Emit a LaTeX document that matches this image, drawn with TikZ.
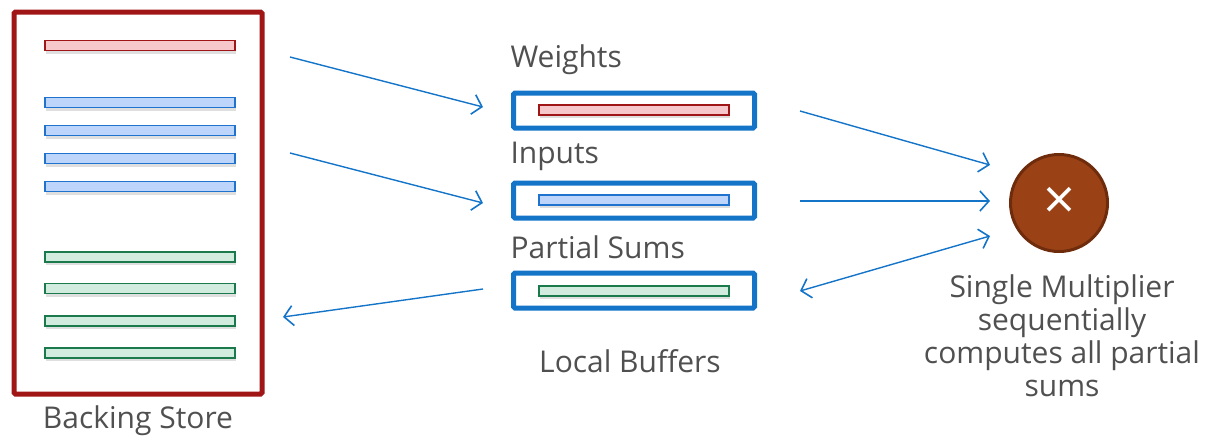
\documentclass[tikz,border=0pt]{standalone}
\usepackage{fontspec}
\setmainfont{Open Sans}
\usetikzlibrary{arrows.meta,positioning,shadows}
\definecolor{storered}{HTML}{A01515}
\definecolor{bufblue}{HTML}{1474C8}
\definecolor{txtgray}{HTML}{505050}
\definecolor{multfill}{HTML}{9A4216}
\definecolor{multdraw}{HTML}{6E2C0C}
\definecolor{wfill}{HTML}{F6C8CB}
\definecolor{idraw}{HTML}{1F73CE}
\definecolor{ifill}{HTML}{BDD5FA}
\definecolor{pdraw}{HTML}{1B7A4C}
\definecolor{pfill}{HTML}{D2EBDF}

\begin{document}
\begin{tikzpicture}[x=1pt, y=-1pt,
    bar/.style={draw, rectangle, line width=1.6pt, minimum width=190pt, minimum height=10pt, inner sep=0pt,
      drop shadow={shadow xshift=1pt, shadow yshift=-3pt, opacity=0.25}},
    wbar/.style={bar, draw=storered, fill=wfill},
    ibar/.style={bar, draw=idraw, fill=ifill},
    pbar/.style={bar, draw=pdraw, fill=pfill},
    buf/.style={draw=bufblue, line width=5pt, rectangle, rounded corners=1.5pt, minimum width=241pt, minimum height=35pt, inner sep=0pt},
    lbl/.style={text=txtgray, font=\fontsize{30}{33}\selectfont},
    arr/.style={-{Straight Barb[length=9pt, width=20pt, line width=1.6pt]}, line width=1.4pt, draw=bufblue}
]
\useasboundingbox (0,0) rectangle (1210,437);

% backing store
\node[draw=storered, line width=5pt, rectangle, rounded corners=1.5pt, minimum width=248pt, minimum height=382pt] (store) at (138,203) {};
\node[wbar] (sw) at (140,45.5) {};
\node[ibar] (si1) at (140,102.5) {};
\node[ibar] (si2) at (140,130.5) {};
\node[ibar] (si3) at (140,158.5) {};
\node[ibar] (si4) at (140,186.5) {};
\node[pbar] (sp1) at (140,257) {};
\node[pbar] (sp2) at (140,288.5) {};
\node[pbar] (sp3) at (140,321) {};
\node[pbar] (sp4) at (140,353) {};
\node[lbl] (storelbl) at (138,421) {Backing Store};

% local buffers
\node[buf] (wbuf) at (634,110.5) {};
\node[buf] (ibuf) at (634,200.5) {};
\node[buf] (pbuf) at (634,290.5) {};
\node[wbar] (bw) at (634,110) {};
\node[ibar] (bi) at (634,200) {};
\node[pbar] (bp) at (634,291) {};
\node[lbl, anchor=west] (wlbl) at (507,60) {Weights};
\node[lbl, anchor=west] (ilbl) at (507,156) {Inputs};
\node[lbl, anchor=west] (plbl) at (507,247) {Partial Sums};
\node[lbl] (buflbl) at (630,361) {Local Buffers};

% multiplier
\node[circle, draw=multdraw, fill=multfill, line width=3pt, minimum size=97pt, inner sep=0pt, text=white, font=\fontsize{56}{56}\selectfont] (mult) at (1059,203) {\symbol{"D7}};
\node[lbl, align=center] (multlbl) at (1062,336) {Single Multiplier\\sequentially\\computes all partial\\sums};

% arrow ends
\coordinate (w0) at (290,57);   \coordinate (w1) at (483,107);
\coordinate (i0) at (290,153);  \coordinate (i1) at (483,203);
\coordinate (p0) at (483,289);  \coordinate (p1) at (283,317);
\coordinate (mw0) at (800,111); \coordinate (mw1) at (990,165);
\coordinate (mi0) at (800,201); \coordinate (mi1) at (990,201);
\coordinate (mp0) at (800,291); \coordinate (mp1) at (990,236);

\draw[arr] (w0) -- (w1);
\draw[arr] (i0) -- (i1);
\draw[arr] (p0) -- (p1);
\draw[arr] (mw0) -- (mw1);
\draw[arr] (mi0) -- (mi1);
\draw[arr, {Straight Barb[length=9pt, width=20pt, line width=1.6pt]}-{Straight Barb[length=9pt, width=20pt, line width=1.6pt]}] (mp0) -- (mp1);
\end{tikzpicture}
\end{document}
